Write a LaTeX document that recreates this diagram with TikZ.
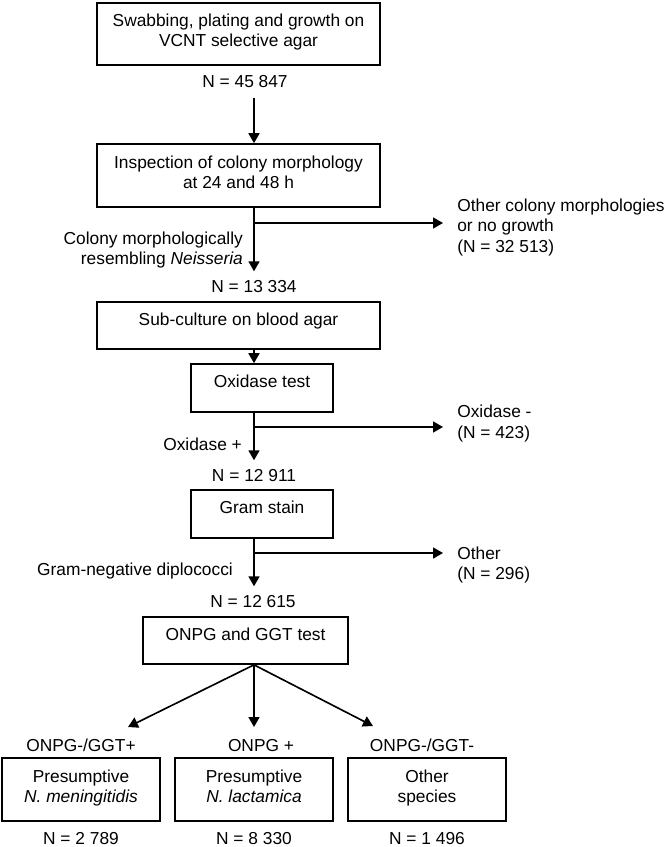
\documentclass[tikz,border=0pt]{standalone}
\usepackage{fontspec}
\setmainfont{Liberation Sans}
\usepackage{tikz}
\usetikzlibrary{arrows.meta,positioning}
\newcommand{\chartfont}{\fontsize{14.8pt}{17.1pt}\selectfont}
\tikzstyle{process} = [rectangle, draw=black, line width=1.4pt, align=center, inner ysep=0pt, text height=20pt, font=\chartfont]
\tikzstyle{tally} = [inner ysep=8pt, font=\chartfont]
\tikzstyle{sidenote} = [anchor=west, align=left, inner xsep=12pt, font=\chartfont]
\tikzstyle{branchnote} = [anchor=east, align=right, font=\chartfont]
\tikzstyle{arrow} = [line width=1.4pt,->,>={Triangle[length=8.5pt,width=9.4pt]}]

\begin{document}
\begin{tikzpicture}[x=0.03cm, y=-0.03cm]
\useasboundingbox (0,0) rectangle (666,847);
\coordinate (spine) at (254,0);
% main column
\node (swab) [process, minimum width=8.49cm, minimum height=1.86cm, text height=37.1pt, text depth=15.8pt] at (238.5,34) {Swabbing, plating and growth on\\VCNT selective agar};
\node (n1) [tally, below of=swab, node distance=1.44cm, xshift=0.195cm] {N = 45 847};
\node (insp) [process, minimum width=8.49cm, minimum height=1.89cm, text height=37.7pt, text depth=16.1pt, below of=swab, node distance=4.245cm] {Inspection of colony morphology\\at 24 and 48 h};
\node (n2) [tally, below of=insp, node distance=3.345cm, xshift=0.465cm] {N = 13 334};
\node (subcult) [process, minimum width=8.49cm, minimum height=1.41cm, text depth=20.1pt, below of=insp, node distance=4.5cm] {Sub-culture on blood agar};
\node (oxid) [process, minimum width=4.26cm, minimum height=1.44cm, text depth=21pt, below of=subcult, node distance=1.875cm, xshift=0.705cm] {Oxidase test};
\node (n3) [tally, below of=oxid, node distance=2.64cm, xshift=-0.24cm] {N = 12 911};
\node (gram) [process, minimum width=4.26cm, minimum height=1.44cm, text depth=21pt, below of=oxid, node distance=3.78cm] {Gram stain};
\node (n4) [tally, below of=gram, node distance=2.64cm, xshift=-0.27cm] {N = 12 615};
\node (onpg) [process, minimum width=6.15cm, minimum height=1.41cm, text depth=20.1pt, below of=gram, node distance=3.795cm, xshift=-0.495cm] {ONPG and GGT test};
% outcomes
\node (lact) [process, minimum width=4.74cm, minimum height=1.89cm, text height=38.3pt, text depth=15.5pt, below of=onpg, node distance=4.47cm, xshift=0.255cm] {Presumptive\\\textit{N. lactamica}};
\node (menin) [process, minimum width=4.74cm, minimum height=1.89cm, text height=38.3pt, text depth=15.5pt, left of=lact, node distance=5.19cm] {Presumptive\\\textit{N. meningitidis}};
\node (species) [process, minimum width=4.74cm, minimum height=1.89cm, text height=38.3pt, text depth=15.5pt, right of=lact, node distance=5.19cm] {Other\\species};
\node (resM) [tally, above of=menin, node distance=1.335cm] {ONPG-/GGT+};
\node (resL) [tally, above of=lact, node distance=1.335cm, xshift=0.21cm] {ONPG +};
\node (resO) [tally, above of=species, node distance=1.335cm, xshift=-0.15cm] {ONPG-/GGT-};
\node (nM) [tally, below of=menin, node distance=1.455cm] {N = 2 789};
\node (nL) [tally, below of=lact, node distance=1.455cm] {N = 8 330};
\node (nO) [tally, below of=species, node distance=1.455cm] {N = 1 496};
% side branches
\node (nogrowth) [sidenote] at (443,227.5) {Other colony morphologies\\or no growth\\(N = 32 513)};
\node (oxneg) [sidenote] at (443,423.5) {Oxidase -\\(N = 423)};
\node (gramother) [sidenote] at (443,565) {Other\\(N = 296)};
\node (resemb) [branchnote] at (247,250) {Colony morphologically\\resembling \textit{Neisseria}};
\node (oxpos) [branchnote] at (246,444) {Oxidase +};
\node (gramneg) [branchnote] at (237,571) {Gram-negative diplococci};
\coordinate (split1) at (254,223);
\coordinate (split2) at (254,427);
\coordinate (split3) at (254,553);
\coordinate (fork) at (onpg.south -| spine);
\coordinate (tipM) at (128,727);
\coordinate (tipL) at (254,727);
\coordinate (tipO) at (373,726);
% connectors
\draw[arrow] (n1.south -| spine) -- (insp.north -| spine);
\draw[arrow] (insp.south -| spine) -- (n2.north -| spine);
\draw[arrow] (split1) -- (split1 -| nogrowth.west);
\draw[arrow] (subcult.south -| spine) -- (oxid.north -| spine);
\draw[arrow] (oxid.south -| spine) -- (n3.north -| spine);
\draw[arrow] (split2) -- (split2 -| oxneg.west);
\draw[arrow] (gram.south -| spine) -- (n4.north -| spine);
\draw[arrow] (split3) -- (split3 -| gramother.west);
\draw[arrow] (fork) -- (tipM);
\draw[arrow] (fork) -- (tipL);
\draw[arrow] (fork) -- (tipO);
\end{tikzpicture}
\end{document}
